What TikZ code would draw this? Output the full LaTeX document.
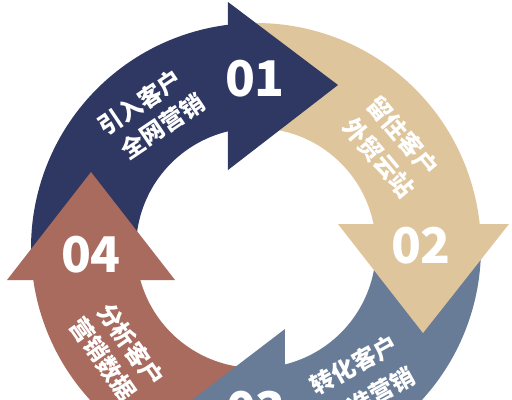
\documentclass[tikz,border=0pt]{standalone}
\usepackage{fontspec}
\newfontfamily\cjk{Noto Sans CJK SC}
\definecolor{cnavy}{HTML}{2E3862}
\definecolor{ctan}{HTML}{DEC59B}
\definecolor{cslate}{HTML}{687C98}
\definecolor{cbrown}{HTML}{A86B5E}
\newcommand\ringband[3]{\fill[#1] plot[domain=#2:#3,samples=60] ({256+225*cos(\x)},{248+225*sin(\x)}) -- plot[domain=#3:#2,samples=60] ({256+120*cos(\x)},{248+120*sin(\x)}) -- cycle;}
\tikzset{
  numlabel/.style={text=white,inner sep=0pt,font=\cjk\bfseries\fontsize{28}{30}\selectfont},
  steplabel/.style={text=white,inner sep=0pt,font=\cjk\bfseries\fontsize{13.5}{16}\selectfont}
}
\begin{document}
\begin{tikzpicture}[x=0.02cm,y=-0.02cm]
\useasboundingbox (0,0) rectangle (512,400);
\clip (0,0) rectangle (512,400);
\fill[white] (0,0) rectangle (512,400);
% ring bands
\ringband{cslate}{0}{85}
\ringband{cbrown}{88}{176}
\ringband{cnavy}{176}{265}
\ringband{ctan}{268}{356}
% arrow heads
\fill[cnavy] (228,2) -- (338,85) -- (228,170) -- cycle;
\fill[ctan] (338,224) -- (509,224) -- (423,333) -- cycle;
\fill[cslate] (285,329) -- (175,413) -- (285,497) -- cycle;
\fill[cbrown] (7,280) -- (175,280) -- (91,172) -- cycle;
% numbers
\node[numlabel] (n1) at (255,79) {01};
\node[numlabel] (n2) at (421,246) {02};
\node[numlabel] (n3) at (256,410) {03};
\node[numlabel] (n4) at (91,255) {04};
% step texts
\node[steplabel,rotate=34] (t1a) at (140,102.5) {引入客户};
\node[steplabel,rotate=34] (t1b) at (162.5,126) {全网营销};
\node[steplabel,rotate=-50] (t2a) at (403,136) {留住客户};
\node[steplabel,rotate=-50] (t2b) at (379,158) {外贸云站};
\node[steplabel,rotate=29] (t3a) at (354,365) {转化客户};
\node[steplabel,rotate=29] (t3b) at (371,397) {精准营销};
\node[steplabel,rotate=-55] (t4a) at (131,345) {分析客户};
\node[steplabel,rotate=-55] (t4b) at (103.3,359.2) {营销数据};
\end{tikzpicture}
\end{document}
